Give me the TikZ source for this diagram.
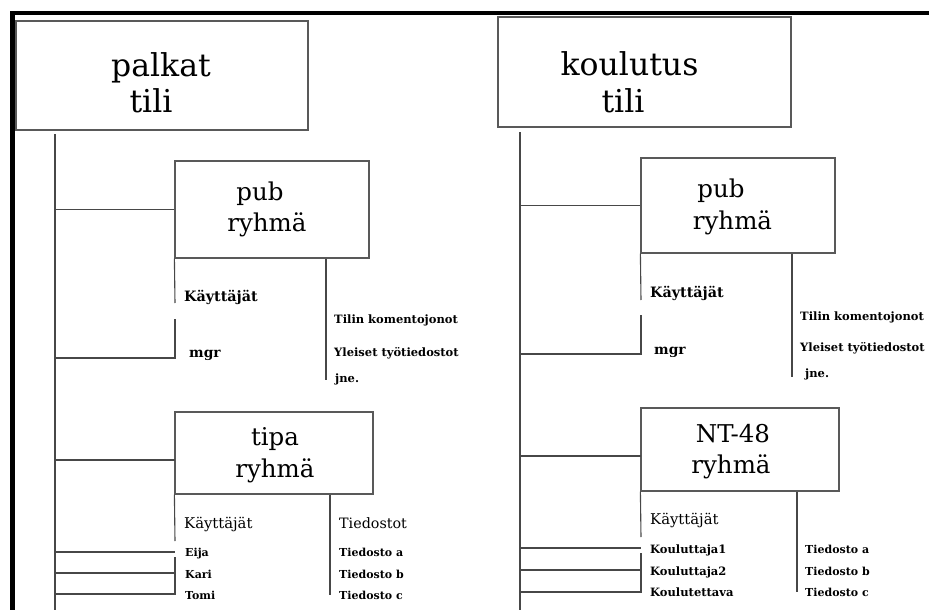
\documentclass[tikz,border=0pt]{standalone}
\usepackage{fontspec}
\setmainfont{DejaVu Serif}
\begin{document}
\begin{tikzpicture}[x=1pt,y=-1pt,
  line/.style={draw=black!72,line width=1.1pt},
  grpbox/.style={draw=black!65,line width=1.2pt,rectangle,inner sep=0pt},
  big/.style={anchor=base,inner sep=0pt,font=\fontsize{31.5}{32}\selectfont},
  mid/.style={anchor=base,inner sep=0pt,font=\fontsize{24.5}{25}\selectfont},
  head/.style={anchor=base west,inner sep=0pt,font=\fontsize{14.8}{15}\selectfont},
  hdb/.style={anchor=base west,inner sep=0pt,font=\bfseries\fontsize{14.3}{15}\selectfont},
  itm/.style={anchor=base west,inner sep=0pt,font=\bfseries\fontsize{11.5}{12}\selectfont},
  usr/.style={anchor=base west,inner sep=0pt,font=\bfseries\fontsize{11}{12}\selectfont}]
\useasboundingbox (0,0) rectangle (929,610);

% thick frame on top and left
\draw[line width=4.6pt] (12.5,610) -- (12.5,13) -- (929,13);

% ---------------- palkat tili ----------------
\node[grpbox,minimum width=292pt,minimum height=109pt] (palkat) at (162,75.5) {};
\node[big] (palkat-a) at (161,77) {palkat};
\node[big] (palkat-b) at (151,112) {tili};
\coordinate (ptop) at (55,134);
\coordinate (pbot) at (55,610);
\draw[line] (ptop) -- (pbot);

% pub ryhmä
\node[grpbox,minimum width=194pt,minimum height=97pt] (pubL) at (272,209.5) {};
\node[mid] (pubL-a) at (260,200) {pub};
\node[mid] (pubL-b) at (267,231) {ryhmä};
\draw[line] (ptop |- pubL.west) -- (pubL.west);
\coordinate (pubLs1) at (175,303);
\coordinate (pubLs2) at (175,319);
\coordinate (pubLm) at (175,358);
\coordinate (pubLr) at (326,380);
\draw[line] (pubL.south west) -- (pubLs1);
\draw[line] (pubLs2) -- (pubLm) -- (ptop |- pubLm);
\draw[line] (pubLr |- pubL.south) -- (pubLr);
\node[hdb] (pubL-users) at (184,301) {Käyttäjät};
\node[hdb,font=\bfseries\fontsize{13.8}{14}\selectfont] (pubL-mgr) at (189,357) {mgr};
\node[itm] (pubL-f1) at (334,323) {Tilin komentojonot};
\node[itm] (pubL-f2) at (334,356) {Yleiset työtiedostot};
\node[itm] (pubL-f3) at (335,382) {jne.};

% tipa ryhmä
\node[grpbox,minimum width=198pt,minimum height=82pt] (tipa) at (274,453) {};
\node[mid] (tipa-a) at (275,445) {tipa};
\node[mid] (tipa-b) at (275,477) {ryhmä};
\coordinate (tipaJ) at (175,460);
\draw[line] (ptop |- tipaJ) -- (tipaJ);
\coordinate (tipaS) at (175,541);
\draw[line] (tipa.south west) -- (tipaS);
\coordinate (tipaU1) at (175,552);
\coordinate (tipaU0) at (175,557);
\coordinate (tipaU2) at (175,573);
\coordinate (tipaU3) at (175,594);
\draw[line] (ptop |- tipaU1) -- (tipaU1);
\draw[line] (ptop |- tipaU2) -- (tipaU2);
\draw[line] (tipaU0) -- (tipaU3) -- (ptop |- tipaU3);
\coordinate (tipaR) at (330,595);
\draw[line] (tipaR |- tipa.south) -- (tipaR);
\node[head] (tipa-users) at (184,528) {Käyttäjät};
\node[head,font=\fontsize{14.3}{15}\selectfont] (tipa-files) at (339,528) {Tiedostot};
\node[usr] (tipa-u1) at (185,556) {Eija};
\node[usr] (tipa-u2) at (185,578) {Kari};
\node[usr] (tipa-u3) at (185,599) {Tomi};
\node[usr] (tipa-f1) at (339,556) {Tiedosto a};
\node[usr] (tipa-f2) at (339,578) {Tiedosto b};
\node[usr] (tipa-f3) at (339,599) {Tiedosto c};

% ---------------- koulutus tili ----------------
\node[grpbox,minimum width=293pt,minimum height=110pt] (koulutus) at (644.5,72) {};
\node[big] (koulutus-a) at (629.5,76) {koulutus};
\node[big] (koulutus-b) at (623,112) {tili};
\coordinate (ktop) at (520,132);
\coordinate (kbot) at (520,610);
\draw[line] (ktop) -- (kbot);

% pub ryhmä
\node[grpbox,minimum width=194pt,minimum height=95pt] (pubR) at (738,205.5) {};
\node[mid] (pubR-a) at (721,197) {pub};
\node[mid] (pubR-b) at (732.5,229) {ryhmä};
\draw[line] (ktop |- pubR.west) -- (pubR.west);
\coordinate (pubRs1) at (641,300);
\coordinate (pubRs2) at (641,315);
\coordinate (pubRm) at (641,354);
\coordinate (pubRr) at (792,377);
\draw[line] (pubR.south west) -- (pubRs1);
\draw[line] (pubRs2) -- (pubRm) -- (ktop |- pubRm);
\draw[line] (pubRr |- pubR.south) -- (pubRr);
\node[hdb] (pubR-users) at (650,297) {Käyttäjät};
\node[hdb,font=\bfseries\fontsize{13.8}{14}\selectfont] (pubR-mgr) at (654,354) {mgr};
\node[itm] (pubR-f1) at (800,320) {Tilin komentojonot};
\node[itm] (pubR-f2) at (800,351) {Yleiset työtiedostot};
\node[itm] (pubR-f3) at (805,377) {jne.};

% NT-48 ryhmä
\node[grpbox,minimum width=198pt,minimum height=83pt] (nt) at (740,449.5) {};
\node[mid] (nt-a) at (733,442) {NT-48};
\node[mid] (nt-b) at (731,473) {ryhmä};
\coordinate (ntJ) at (641,456);
\draw[line] (ktop |- ntJ) -- (ntJ);
\coordinate (ntS) at (641,537);
\draw[line] (nt.south west) -- (ntS);
\coordinate (ntU1) at (641,548);
\coordinate (ntU0) at (641,553);
\coordinate (ntU2) at (641,570);
\coordinate (ntU3) at (641,592);
\draw[line] (ktop |- ntU1) -- (ntU1);
\draw[line] (ktop |- ntU2) -- (ntU2);
\draw[line] (ntU0) -- (ntU3) -- (ktop |- ntU3);
\coordinate (ntR) at (797,592);
\draw[line] (ntR |- nt.south) -- (ntR);
\node[head] (nt-users) at (650,524) {Käyttäjät};
\node[itm] (nt-u1) at (650,553) {Kouluttaja1};
\node[itm] (nt-u2) at (650,575) {Kouluttaja2};
\node[itm] (nt-u3) at (650,596) {Koulutettava};
\node[usr] (nt-f1) at (805,553) {Tiedosto a};
\node[usr] (nt-f2) at (805,575) {Tiedosto b};
\node[usr] (nt-f3) at (805,596) {Tiedosto c};
\end{tikzpicture}
\end{document}
